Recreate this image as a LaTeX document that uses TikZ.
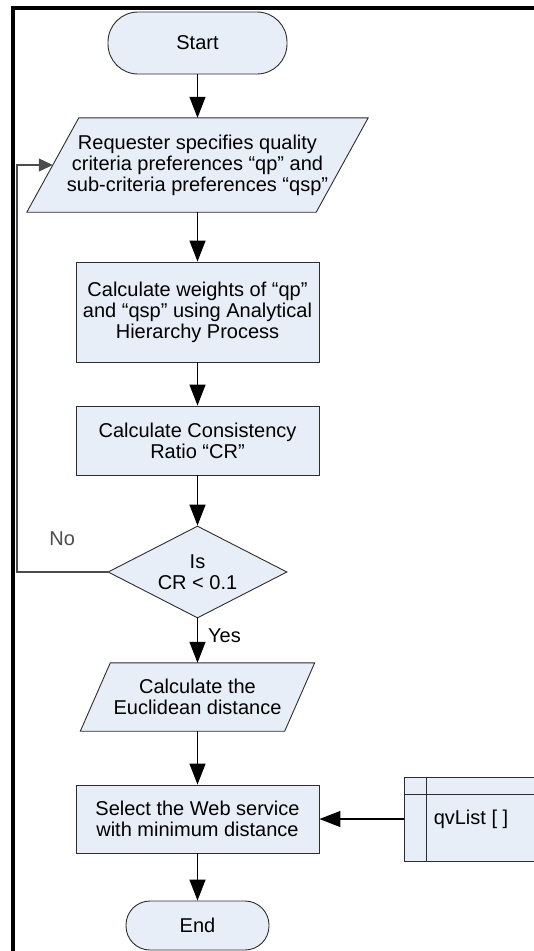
\documentclass[tikz,border=0pt]{standalone}
\usepackage{fontspec}
\setmainfont{Liberation Sans}
\usetikzlibrary{arrows.meta,shapes.geometric,backgrounds,calc}
\definecolor{boxfill}{RGB}{232,238,247}
\definecolor{boxline}{RGB}{45,45,45}
\begin{document}
\begin{tikzpicture}[x=1pt,y=-1pt,
  font=\fontsize{20}{21}\selectfont,
  shapebox/.style={draw=boxline,fill=boxfill,line width=0.9pt,align=center,inner sep=0pt},
  procbox/.style={shapebox,rectangle,minimum width=243pt,minimum height=#1},
  termbox/.style={shapebox,rectangle,rounded corners=#1},
  iobox/.style={rectangle,align=center,inner sep=0pt},
  ioshape/.style={draw=boxline,fill=boxfill,line width=0.9pt},
  arr/.style={-{Triangle[length=21pt,width=16pt]},line width=1.3pt,black},
  fbline/.style={-{Triangle[length=14pt,width=13pt]},line width=1.2pt,black!70},
  lbl/.style={inner sep=0pt}
]
\useasboundingbox (0,0) rectangle (534,951);
\clip (0,0) rectangle (534,951);

% frame
\draw[line width=4pt] (12.5,955) -- (12.5,8) -- (540,8);

% nodes
\node[termbox=30pt,minimum width=179pt,minimum height=62pt] (start) at (197.5,43) {Start};

\node[iobox,minimum width=289pt,minimum height=94pt] (p1) at (197.5,165)
  {Requester specifies quality\\criteria preferences “qp” and\\sub-criteria preferences “qsp”};

\node[procbox=100pt] (r1) at (197.5,312)
  {Calculate weights of “qp”\\and “qsp” using Analytical\\Hierarchy Process};

\node[procbox=69pt] (r2) at (197.5,440.5)
  {Calculate Consistency\\Ratio “CR”};

\node[shapebox,diamond,aspect=1.95,minimum width=179pt,minimum height=92pt] (d) at (197.5,572)
  {Is\\CR < 0.1};

\node[iobox,minimum width=204pt,minimum height=68pt] (p2) at (197.5,697)
  {Calculate the\\Euclidean distance};

\node[procbox=68pt] (r3) at (197.5,819)
  {Select the Web service\\with minimum distance};

\node[termbox=24pt,minimum width=143pt,minimum height=49pt] (end) at (197.5,925.5) {End};

\node[shapebox,rectangle,minimum width=150pt,minimum height=84pt] (qv) at (479,819) {};
\draw[draw=boxline,line width=0.9pt] ($(qv.north west)+(23,0)$) -- ($(qv.south west)+(23,0)$);
\draw[draw=boxline,line width=0.9pt] ($(qv.north west)+(0,18)$) -- ($(qv.north east)+(0,18)$);
\node[lbl,anchor=west] (qvt) at ($(qv.west)+(30,0)$) {qvList [ ]};

% parallelogram outlines
\begin{scope}[on background layer]
\draw[ioshape] ($(p1.north west)+(26,0)$) -- ($(p1.north east)+(26,0)$)
  -- ($(p1.south east)+(-26,0)$) -- ($(p1.south west)+(-26,0)$) -- cycle;
\draw[ioshape] ($(p2.north west)+(15,0)$) -- ($(p2.north east)+(15,0)$)
  -- ($(p2.south east)+(-15,0)$) -- ($(p2.south west)+(-15,0)$) -- cycle;
\end{scope}

% connectors
\draw[arr] (start.south) -- (p1.north);
\draw[arr] (p1.south) -- (r1.north);
\draw[arr] (r1.south) -- (r2.north);
\draw[arr] (r2.south) -- (d.north);
\draw[arr] (d.south) -- node[lbl,pos=0.4,anchor=west,xshift=10pt] (yes) {Yes} (p2.north);
\draw[arr] (p2.south) -- (r3.north);
\draw[arr] (r3.south) -- (end.north);
\draw[arr] (qv.west) -- (r3.east);

\coordinate (fb) at (17,572);
\draw[fbline] (d.west) -- node[lbl,above=26pt] (no) {No} (fb) |- (p1.west);
\end{tikzpicture}
\end{document}
